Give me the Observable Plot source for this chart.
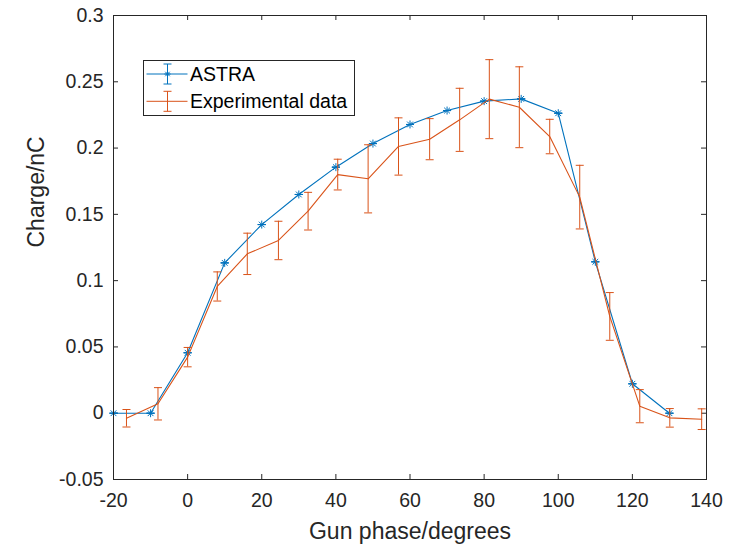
<!DOCTYPE html>
<html>
<head>
<meta charset="utf-8">
<script src="https://cdn.jsdelivr.net/npm/d3@7"></script>
<script src="https://cdn.jsdelivr.net/npm/@observablehq/plot@0.6"></script>
<style>
  html, body { margin: 0; padding: 0; background: #fff; }
  #chart { width: 752px; height: 547px; }
</style>
</head>
<body>
<div id="chart"></div>
<script>
// ---- data ----
const astraPhase  = [-20, -10, 0, 10, 20, 30, 40, 50, 60, 70, 80, 90, 100, 110, 120, 130];
const astraCharge = [0, 0, 0.0456, 0.1134, 0.1423, 0.165, 0.1856, 0.2034, 0.2178, 0.2283, 0.2354, 0.2371, 0.2263, 0.1142, 0.0222, 0];
const astraErr    = [0, 0, 0, 0, 0, 0, 0, 0, 0, 0, 0, 0, 0, 0, 0, 0];

const expPhase  = [-16.5, -8, 0, 8, 16.1, 24.5, 32.5, 40.5, 48.7, 56.9, 65.3, 73.4, 81.4, 89.5, 97.7, 105.8, 113.9, 122, 130.1, 138.7];
const expCharge = [-0.0038, 0.0071, 0.0423, 0.0956, 0.1202, 0.1303, 0.1524, 0.180, 0.1768, 0.2012, 0.2067, 0.2213, 0.2369, 0.2308, 0.2087, 0.163, 0.073, 0.0053, -0.0035, -0.0045];
const expErr    = [0.0066, 0.0122, 0.0073, 0.011, 0.0156, 0.0145, 0.0142, 0.0116, 0.0257, 0.0216, 0.0155, 0.0238, 0.0298, 0.0305, 0.013, 0.024, 0.018, 0.0125, 0.007, 0.0078];

const seriesNames = ["ASTRA", "Experimental data"];
const xTicks = [-20, 0, 20, 40, 60, 80, 100, 120, 140];
const yTicks = [-0.05, 0, 0.05, 0.1, 0.15, 0.2, 0.25, 0.3];
const xLabel = "Gun phase/degrees";
const yLabel = "Charge/nC";

// ---- layout / styling ----
const W = 752, H = 547, ML = 113, MR = 46, MT = 15, MB = 68;
const FW = W - ML - MR, FH = H - MT - MB;
const BLUE = "#0072BD", ORANGE = "#D95319", AXIS = "#262626";
const FONT = "'Liberation Sans', Arial, Helvetica, sans-serif";
const TICK = 5;

const astra = astraPhase.map((x, i) => ({x, y: astraCharge[i], e: astraErr[i]}));
const exper = expPhase.map((x, i) => ({x, y: expCharge[i], e: expErr[i]}));

// custom symbols
const capSymbol = {draw(ctx, size) { const r = Math.sqrt(size / Math.PI); ctx.moveTo(-r, 0); ctx.lineTo(r, 0); }};
const starSymbol = {draw(ctx, size) {
  const r = Math.sqrt(size / Math.PI), d = r * 0.72;
  ctx.moveTo(-r, 0); ctx.lineTo(r, 0);
  ctx.moveTo(0, -r); ctx.lineTo(0, r);
  ctx.moveTo(-d, -d); ctx.lineTo(d, d);
  ctx.moveTo(-d, d); ctx.lineTo(d, -d);
}};

function errMarks(data, color, sw) {
  return [
    Plot.ruleX(data, {x: "x", y1: d => d.y - d.e, y2: d => d.y + d.e, stroke: color, strokeWidth: sw}),
    Plot.dot(data, {x: "x", y: d => d.y - d.e, r: 4, symbol: capSymbol, stroke: color, strokeWidth: sw}),
    Plot.dot(data, {x: "x", y: d => d.y + d.e, r: 4, symbol: capSymbol, stroke: color, strokeWidth: sw})
  ];
}

const chart = Plot.plot({
  width: W, height: H,
  marginLeft: ML, marginRight: MR, marginTop: MT, marginBottom: MB,
  x: {domain: [-20, 140]},
  y: {domain: [-0.05, 0.3]},
  style: {fontFamily: FONT, fontSize: "19.5px", color: AXIS, background: "#fff", overflow: "visible"},
  marks: [
    // inward ticks on all four sides
    Plot.ruleX(xTicks, {x: d => d, insetTop: FH - TICK, stroke: AXIS, strokeWidth: 1}),
    Plot.ruleX(xTicks, {x: d => d, insetBottom: FH - TICK, stroke: AXIS, strokeWidth: 1}),
    Plot.ruleY(yTicks, {y: d => d, insetRight: FW - TICK, stroke: AXIS, strokeWidth: 1}),
    Plot.ruleY(yTicks, {y: d => d, insetLeft: FW - TICK, stroke: AXIS, strokeWidth: 1}),
    // tick labels
    Plot.axisX(xTicks, {anchor: "bottom", tickSize: 0, tickPadding: 14, tickFormat: d => String(d), label: null, fill: AXIS}),
    Plot.axisY(yTicks, {anchor: "left", tickSize: 0, tickPadding: 10, tickFormat: d => String(d), label: null, fill: AXIS}),
    // axis titles
    Plot.text([xLabel], {text: d => d, frameAnchor: "bottom", dy: 59, fontSize: 23, fill: AXIS}),
    Plot.text([yLabel], {text: d => d, frameAnchor: "left", dx: -77, rotate: -90, fontSize: 23, fill: AXIS}),
    // series: ASTRA
    Plot.line(astra, {x: "x", y: "y", stroke: BLUE, strokeWidth: 1.1}),
    ...errMarks(astra, BLUE, 1),
    Plot.dot(astra, {x: "x", y: "y", r: 4, symbol: starSymbol, stroke: BLUE, strokeWidth: 1}),
    // series: Experimental
    Plot.line(exper, {x: "x", y: "y", stroke: ORANGE, strokeWidth: 1.1}),
    ...errMarks(exper, ORANGE, 1),
    Plot.frame({stroke: AXIS, strokeWidth: 1})
  ]
});

document.getElementById("chart").appendChild(chart);

// ---- legend (inside the axes, top-left) ----
const svg = d3.select(chart);
const lg = svg.append("g").attr("font-family", FONT).attr("font-size", 19.5).attr("text-anchor", "start");
lg.append("rect").attr("x", 143.5).attr("y", 60.5).attr("width", 211).attr("height", 55)
  .attr("fill", "#fff").attr("stroke", AXIS).attr("stroke-width", 1);
const rows = [{name: seriesNames[0], color: BLUE, star: true, y: 74}, {name: seriesNames[1], color: ORANGE, star: false, y: 101.3}];
for (const r of rows) {
  const g = lg.append("g").attr("stroke", r.color).attr("stroke-width", 1).attr("fill", "none");
  g.append("line").attr("x1", 146.5).attr("x2", 187.5).attr("y1", r.y).attr("y2", r.y);
  g.append("line").attr("x1", 167.5).attr("x2", 167.5).attr("y1", r.y - 10).attr("y2", r.y + 10);
  g.append("line").attr("x1", 163.5).attr("x2", 171.5).attr("y1", r.y - 10).attr("y2", r.y - 10);
  g.append("line").attr("x1", 163.5).attr("x2", 171.5).attr("y1", r.y + 10).attr("y2", r.y + 10);
  if (r.star) {
    const p = d3.path(); starSymbol.draw(p, 16 * Math.PI * 0.6);
    g.append("path").attr("d", p.toString()).attr("transform", `translate(167.5,${r.y})`);
  }
  lg.append("text").attr("x", 190).attr("y", r.y).attr("dy", "0.35em").attr("fill", "#000")
    .attr("text-anchor", "start").text(r.name);
}
</script>
</body>
</html>
